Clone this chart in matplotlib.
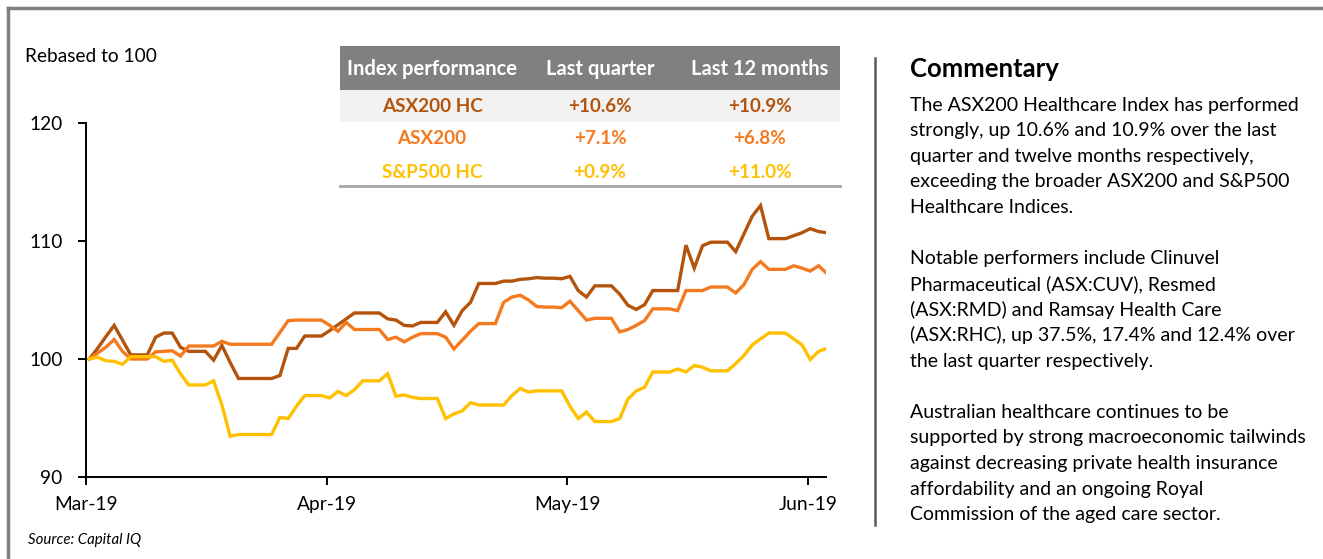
import matplotlib
matplotlib.use('Agg')
import matplotlib.pyplot as plt
from matplotlib.patches import Rectangle
from matplotlib.lines import Line2D
import numpy as np

plt.rcParams['font.family'] = ['Lato', 'DejaVu Sans']

# data (rebased to 100), one point per day
asx200_hc = [100.0, 100.9, 101.9, 102.85, 101.6, 100.35, 100.35, 100.35, 101.85, 102.2,
             102.2, 101.0, 100.65, 100.65, 100.65, 99.9, 101.15, 99.7, 98.35, 98.35,
             98.35, 98.35, 98.35, 98.6, 100.9, 100.9, 101.95, 101.95, 101.95, 102.4,
             102.9, 103.4, 103.9, 103.9, 103.9, 103.9, 103.4, 103.3, 102.85, 102.8,
             103.1, 103.1, 103.1, 104.0, 102.85, 104.1, 104.8, 106.4, 106.4, 106.4,
             106.6, 106.6, 106.75, 106.8, 106.9, 106.85, 106.85, 106.8, 107.0, 105.8,
             105.25, 106.2, 106.2, 106.2, 105.5, 104.55, 104.2, 104.6, 105.8, 105.8,
             105.8, 105.8, 109.65, 107.7, 109.6, 109.9, 109.9, 109.9, 109.1, 110.6,
             112.1, 113.0, 110.2, 110.2, 110.2, 110.45, 110.7, 111.05, 110.8, 110.7]
asx200 = [100.0, 100.5, 101.0, 101.65, 100.65, 100.0, 100.0, 100.0, 100.6, 100.65,
          100.7, 100.25, 101.1, 101.1, 101.1, 101.1, 101.5, 101.25, 101.25, 101.25,
          101.25, 101.25, 101.25, 102.25, 103.25, 103.3, 103.3, 103.3, 103.3, 102.85,
          102.35, 103.1, 102.5, 102.5, 102.5, 102.5, 101.65, 101.85, 101.45, 101.85,
          102.15, 102.15, 102.15, 101.85, 100.85, 101.6, 102.35, 103.0, 103.0, 103.0,
          104.8, 105.25, 105.4, 105.0, 104.45, 104.4, 104.4, 104.35, 104.9, 104.1,
          103.3, 103.45, 103.45, 103.45, 102.3, 102.5, 102.85, 103.25, 104.25, 104.25,
          104.25, 104.1, 105.8, 105.8, 105.8, 106.1, 106.1, 106.1, 105.6, 106.3,
          107.6, 108.25, 107.6, 107.6, 107.6, 107.9, 107.7, 107.45, 107.9, 107.25]
sp500_hc = [100.0, 100.15, 99.85, 99.8, 99.55, 100.2, 100.2, 100.2, 100.2, 99.8,
            99.9, 98.75, 97.8, 97.8, 97.8, 98.15, 96.1, 93.45, 93.6, 93.6,
            93.6, 93.6, 93.6, 95.05, 94.95, 96.0, 96.9, 96.9, 96.9, 96.7,
            97.25, 96.9, 97.4, 98.15, 98.15, 98.15, 98.75, 96.85, 96.95, 96.75,
            96.65, 96.65, 96.65, 94.95, 95.35, 95.6, 96.3, 96.1, 96.1, 96.1,
            96.1, 96.9, 97.5, 97.2, 97.3, 97.3, 97.3, 97.3, 96.0, 94.95,
            95.5, 94.7, 94.7, 94.7, 94.95, 96.6, 97.3, 97.6, 98.9, 98.9,
            98.9, 99.15, 98.9, 99.45, 99.3, 99.0, 99.0, 99.0, 99.6, 100.3,
            101.2, 101.7, 102.2, 102.2, 102.2, 101.7, 101.2, 99.95, 100.65, 100.9]
month_labels = ['Mar-19', 'Apr-19', 'May-19', 'Jun-19']

table_header = ['Index performance', 'Last quarter', 'Last 12 months']
table_names = ['ASX200 HC', 'ASX200', 'S&P500 HC']
last_quarter = ['+10.6%', '+7.1%', '+0.9%']
last_12m = ['+10.9%', '+6.8%', '+11.0%']

commentary = [
    'The ASX200 Healthcare Index has performed',
    'strongly, up 10.6% and 10.9% over the last',
    'quarter and twelve months respectively,',
    'exceeding the broader ASX200 and S&P500',
    'Healthcare Indices.',
    '',
    'Notable performers include Clinuvel',
    'Pharmaceutical (ASX:CUV), Resmed',
    '(ASX:RMD) and Ramsay Health Care',
    '(ASX:RHC), up 37.5%, 17.4% and 12.4% over',
    'the last quarter respectively.',
    '',
    'Australian healthcare continues to be',
    'supported by strong macroeconomic tailwinds',
    'against decreasing private health insurance',
    'affordability and an ongoing Royal',
    'Commission of the aged care sector.',
]

colors = ['#B4540C', '#F47A1F', '#FFC000']

W, H = 1323, 559
def fx(x):
    return x / W
def fy(y):
    return 1 - y / H

fig = plt.figure(figsize=(W / 100, H / 100), dpi=100)

# outer frame
fig.add_artist(Line2D([fx(8), fx(1330)], [fy(8), fy(8)], color='#7f7f7f', lw=2.5))
fig.add_artist(Line2D([fx(8), fx(8)], [fy(8), fy(570)], color='#7f7f7f', lw=2.5))

ax = fig.add_axes([fx(86), fy(477), (826 - 86) / W, (477 - 123) / H])
x = np.arange(len(asx200_hc))
for series, c in zip([asx200_hc, asx200, sp500_hc], colors):
    ax.plot(x, series, color=c, lw=2.4, solid_joinstyle='miter')

ax.set_ylim(90, 120)
ax.set_xlim(-0.4, 88.9)
ax.set_yticks([90, 100, 110, 120])
ax.set_xticks([-0.4 + 29.05 * k for k in range(4)])
ax.set_xticklabels(month_labels)
for s in ['top', 'right']:
    ax.spines[s].set_visible(False)
for s in ['left', 'bottom']:
    ax.spines[s].set_linewidth(1.4)
ax.tick_params(axis='both', labelsize=13.8, length=6, width=1.4, direction='out')
ax.tick_params(axis='y', pad=11)
ax.tick_params(axis='x', pad=8)

fig.text(fx(25), fy(57), 'Rebased to 100', fontsize=13.8, va='center', ha='left')
fig.text(fx(28), fy(540), 'Source: Capital IQ', fontsize=10.8, style='italic', va='center')

# performance table
fig.add_artist(Rectangle((fx(340), fy(90)), fx(500), 44 / H, color='#808080', lw=0))
fig.add_artist(Rectangle((fx(340), fy(122)), fx(500), 32 / H, color='#f2f2f2', lw=0))
fig.add_artist(Line2D([fx(340), fx(840)], [fy(186), fy(186)], color='#a6a6a6', lw=2))
col_x = [432, 600, 760]
for cx, h in zip(col_x, table_header):
    fig.text(fx(cx), fy(69), h, color='white', fontsize=14.5, fontweight='bold', ha='center', va='center')
for i, (n, q, y12) in enumerate(zip(table_names, last_quarter, last_12m)):
    yy = 106 + 33 * i
    for cx, t in zip(col_x, [n, q, y12]):
        fig.text(fx(cx), fy(yy), t, color=colors[i], fontsize=13.6, fontweight='bold',
                 ha='center', va='center')

# commentary
fig.add_artist(Line2D([fx(875), fx(875)], [fy(58), fy(525)], color='#595959', lw=1.8))
fig.text(fx(910), fy(69), 'Commentary', fontsize=18.5, fontweight='bold', va='center')
for k, line in enumerate(commentary):
    if line:
        fig.text(fx(910), fy(105 + 25.6 * k), line, fontsize=14, va='center')

fig.savefig('out.png', dpi=100)
